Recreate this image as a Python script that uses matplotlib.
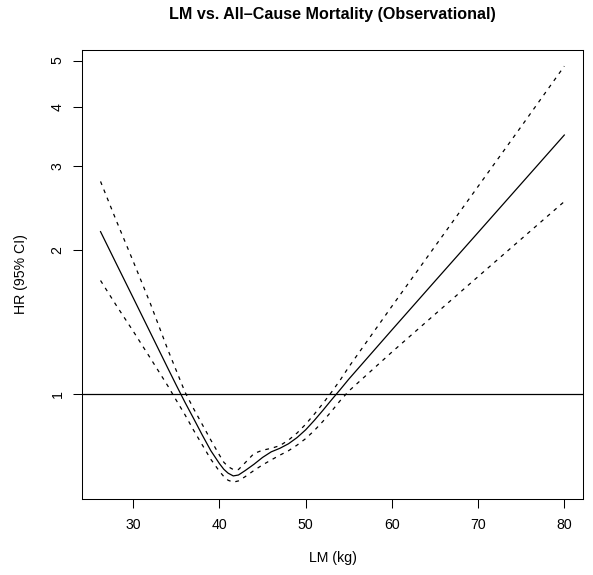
import numpy as np
import matplotlib
matplotlib.use('Agg')
import matplotlib.pyplot as plt
from matplotlib.ticker import NullLocator

plt.rcParams['font.family'] = ['Liberation Sans', 'DejaVu Sans']

# LM (kg) grid and hazard ratios
lm_kg = [26.2, 28, 30, 32, 34, 35, 36, 37, 38, 39, 40, 40.5, 41, 41.6, 42.2,
         43, 44, 45, 46, 47, 48, 49, 50, 51, 52, 53, 54, 55, 60, 65, 70, 75, 80]
hr = [2.190, 1.881, 1.590, 1.343, 1.134, 1.043, 0.961, 0.889, 0.821, 0.761,
      0.715, 0.696, 0.683, 0.674, 0.677, 0.692, 0.713, 0.737, 0.757, 0.770,
      0.787, 0.811, 0.842, 0.881, 0.925, 0.973, 1.022, 1.075, 1.363, 1.725,
      2.181, 2.759, 3.490]
hr_upper = [2.790, 2.316, 1.896, 1.545, 1.240, 1.119, 1.010, 0.932, 0.864,
            0.801, 0.745, 0.720, 0.705, 0.695, 0.695, 0.719, 0.751, 0.763,
            0.770, 0.780, 0.801, 0.829, 0.865, 0.908, 0.956, 1.010, 1.070,
            1.140, 1.528, 2.040, 2.724, 3.636, 4.865]
hr_lower = [1.730, 1.537, 1.354, 1.188, 1.041, 0.970, 0.905, 0.840, 0.783,
            0.730, 0.689, 0.672, 0.660, 0.654, 0.658, 0.672, 0.692, 0.711,
            0.728, 0.745, 0.761, 0.782, 0.807, 0.839, 0.877, 0.921, 0.969,
            1.015, 1.225, 1.470, 1.763, 2.113, 2.532]

x_ticks = [30, 40, 50, 60, 70, 80]
y_ticks = [1, 2, 3, 4, 5]

fig = plt.figure(figsize=(5.93, 5.75), dpi=100)
ax = fig.add_axes([82 / 593, 1 - 499 / 575, 501 / 593, 449 / 575])

lw = 0.9
ax.plot(lm_kg, hr, color='black', lw=lw)
ax.plot(lm_kg, hr_upper, color='black', lw=lw, dashes=(3, 4))
ax.plot(lm_kg, hr_lower, color='black', lw=lw, dashes=(3, 4))
ax.axhline(1, color='black', lw=lw)

ax.set_yscale('log')
ax.set_xlim(24.05, 82.17)
ax.set_ylim(0.603, 5.26)
ax.set_xticks(x_ticks)
ax.set_xticklabels([str(v) for v in x_ticks])
ax.set_yticks(y_ticks)
ax.set_yticklabels([str(v) for v in y_ticks])
ax.yaxis.set_minor_locator(NullLocator())
ax.tick_params(axis='both', direction='out', length=6.5, width=0.75,
               labelsize=10.2, colors='black')
ax.tick_params(axis='x', pad=7)
ax.tick_params(axis='y', pad=6, labelrotation=90)
for lab in ax.get_yticklabels():
    lab.set_va('center')
for sp in ax.spines.values():
    sp.set_linewidth(0.75)

fig.text((82 + 583) / 2 / 593, 1 - 15 / 575,
         'LM vs. All\u2013Cause Mortality (Observational)',
         ha='center', va='center', fontsize=11.6, fontweight='bold')
fig.text((82 + 583) / 2 / 593, 1 - 558 / 575, 'LM (kg)',
         ha='center', va='center', fontsize=10.2)
fig.text(21.5 / 593, 1 - 274.5 / 575, 'HR (95% CI)', rotation=90,
         ha='center', va='center', fontsize=10.2)

fig.savefig('out.png', dpi=100)
